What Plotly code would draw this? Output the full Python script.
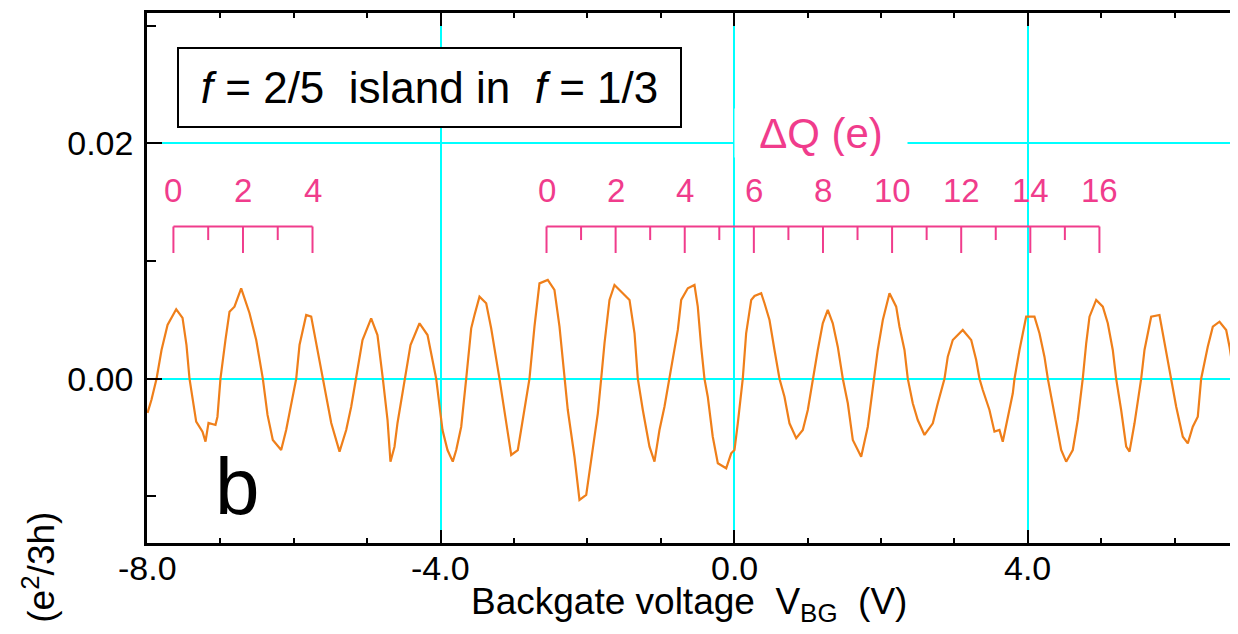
import plotly.graph_objects as go

# ---- measured trace: backgate voltage (V) and conductance (e^2/3h) ----
V_BG = [-7.993, -7.94, -7.870, -7.802, -7.720, -7.602, -7.516, -7.462, -7.421, -7.330,
        -7.244, -7.203, -7.162, -7.067, -7.040, -6.999, -6.931, -6.876, -6.808, -6.717,
        -6.604, -6.512, -6.422, -6.358, -6.286, -6.172, -6.104, -6.035, -5.967, -5.922,
        -5.831, -5.763, -5.704, -5.605, -5.490, -5.377, -5.286, -5.218, -5.150, -5.064,
        -4.946, -4.860, -4.787, -4.723, -4.683, -4.628, -4.587, -4.492, -4.410, -4.287,
        -4.178, -4.060, -3.974, -3.906, -3.834, -3.787, -3.719, -3.651, -3.583, -3.538,
        -3.470, -3.379, -3.311, -3.198, -3.106, -3.038, -2.948, -2.902, -2.789, -2.721,
        -2.653, -2.540, -2.449, -2.380, -2.312, -2.267, -2.176, -2.108, -2.016, -1.926,
        -1.858, -1.812, -1.767, -1.699, -1.631, -1.518, -1.426, -1.358, -1.313, -1.245,
        -1.154, -1.086, -1.018, -0.950, -0.881, -0.837, -0.768, -0.722, -0.632, -0.541,
        -0.496, -0.450, -0.405, -0.360, -0.292, -0.223, -0.109, -0.041, 0.004, 0.049,
        0.095, 0.117, 0.163, 0.232, 0.277, 0.368, 0.413, 0.481, 0.549, 0.617,
        0.685, 0.753, 0.845, 0.935, 1.003, 1.071, 1.139, 1.207, 1.275, 1.343,
        1.411, 1.480, 1.548, 1.616, 1.730, 1.820, 1.911, 1.956, 2.025, 2.116,
        2.207, 2.252, 2.320, 2.365, 2.433, 2.501, 2.593, 2.706, 2.774, 2.865,
        2.910, 2.978, 3.114, 3.229, 3.297, 3.342, 3.387, 3.478, 3.546, 3.614,
        3.659, 3.728, 3.796, 3.819, 3.887, 3.978, 4.091, 4.159, 4.227, 4.273,
        4.319, 4.387, 4.455, 4.523, 4.613, 4.681, 4.749, 4.796, 4.841, 4.932,
        5.022, 5.090, 5.158, 5.204, 5.272, 5.341, 5.386, 5.454, 5.522, 5.545,
        5.590, 5.681, 5.794, 5.862, 5.930, 5.954, 6.022, 6.112, 6.180, 6.248,
        6.316, 6.362, 6.452, 6.521, 6.612, 6.703, 6.748, 6.816, 6.843]
G = [-0.00291, -0.00181, 0.0, 0.00244, 0.00456, 0.0059, 0.00516, 0.00286, 0.0, -0.00365,
     -0.0045, -0.00535, -0.00376, -0.00393, -0.00323, 0.0, 0.00329, 0.00569, 0.00612, 0.00768,
     0.00558, 0.00329, 0.0, -0.00308, -0.00521, -0.00606, -0.00436, -0.00206, 0.0, 0.00286,
     0.00541, 0.00527, 0.00329, 0.0, -0.00376, -0.0062, -0.00436, -0.00238, 0.0, 0.00329,
     0.00513, 0.00371, 0.0, -0.00351, -0.00705, -0.00578, -0.00376, 0.0, 0.00286, 0.00471,
     0.00371, 0.0, -0.00436, -0.00606, -0.00705, -0.00606, -0.00408, 0.0, 0.00428, 0.00541,
     0.00697, 0.00641, 0.00428, 0.0, -0.00376, -0.00648, -0.00606, -0.00436, 0.0, 0.00442,
     0.0081, 0.00839, 0.00754, 0.00442, 0.0, -0.00266, -0.00663, -0.0103, -0.00988, -0.00606,
     -0.00294, 0.0, 0.00301, 0.00669, 0.00796, 0.00726, 0.00669, 0.00386, 0.0, -0.00266,
     -0.00578, -0.00705, -0.00436, -0.00238, 0.0, 0.00187, 0.00414, 0.00669, 0.00768, 0.00796,
     0.00612, 0.00272, 0.0, -0.00153, -0.00493, -0.00719, -0.00761, -0.00634, -0.00606, -0.00379,
     -0.00153, 0.0, 0.00386, 0.00669, 0.00703, 0.00726, 0.00641, 0.00499, 0.00244, 0.0,
     -0.00153, -0.00379, -0.00506, -0.00436, -0.00266, 0.0, 0.00244, 0.00471, 0.00584, 0.00471,
     0.00272, 0.0, -0.00209, -0.00521, -0.00663, -0.00408, 0.0, 0.00244, 0.00499, 0.00726,
     0.00612, 0.00442, 0.00244, 0.0, -0.00209, -0.00351, -0.00478, -0.00379, -0.00209, 0.0,
     0.00187, 0.00329, 0.00414, 0.00329, 0.00159, 0.0, -0.00096, -0.00266, -0.0045, -0.00436,
     -0.00535, -0.00323, -0.00124, 0.0, 0.00244, 0.00527, 0.00527, 0.00386, 0.00187, 0.0,
     -0.00153, -0.00379, -0.00606, -0.00705, -0.00606, -0.00351, 0.0, 0.00301, 0.00527, 0.00669,
     0.00612, 0.00471, 0.00244, 0.0, -0.00266, -0.00578, -0.0062, -0.00379, -0.00124, 0.0,
     0.00244, 0.00527, 0.00541, 0.00301, 0.00074, 0.0, -0.00238, -0.00493, -0.00549, -0.00408,
     -0.00323, 0.0, 0.00272, 0.00442, 0.00484, 0.00414, 0.00272, 0.0, -0.0005]

# ---- ΔQ (e) charge scales ----
DQ1_CHARGES = [0, 1, 2, 3, 4]
DQ1_V_RANGE = [-7.64, -5.745]
DQ1_LABELS = [0, 2, 4]
DQ2_CHARGES = list(range(0, 17))
DQ2_V_RANGE = [-2.557, 4.976]
DQ2_LABELS = [0, 2, 4, 6, 8, 10, 12, 14, 16]
BRACKET_TOP = 0.01293
MAJOR_BOTTOM = 0.01068
MINOR_BOTTOM = 0.01178
LABEL_Y = 0.0160

X_TICKS = [-8, -4, 0, 4]
X_TICKTEXT = ["-8.0", "-4.0", "0.0", "4.0"]

ORANGE = "#EF7F1A"
PINK = "#F03C8C"
CYAN = "#00FFFF"
FONT = "Liberation Sans, Arial, sans-serif"


def q_to_v(q, charges, vr):
    qmax = max(charges)
    return vr[0] + (vr[1] - vr[0]) * q / qmax


def bracket(charges, vr):
    xs, ys = [vr[0], vr[1], None], [BRACKET_TOP, BRACKET_TOP, None]
    for q in charges:
        v = q_to_v(q, charges, vr)
        bottom = MAJOR_BOTTOM if q % 2 == 0 else MINOR_BOTTOM
        xs += [v, v, None]
        ys += [BRACKET_TOP, bottom, None]
    return xs, ys


fig = go.Figure()
fig.add_trace(go.Scatter(x=V_BG, y=G, mode="lines",
                         line=dict(color=ORANGE, width=2.2), showlegend=False))

for charges, vr in [(DQ1_CHARGES, DQ1_V_RANGE), (DQ2_CHARGES, DQ2_V_RANGE)]:
    bx, by = bracket(charges, vr)
    fig.add_trace(go.Scatter(x=bx, y=by, mode="lines",
                             line=dict(color=PINK, width=2), showlegend=False,
                             hoverinfo="skip"))

annotations = []
for labels, charges, vr in [(DQ1_LABELS, DQ1_CHARGES, DQ1_V_RANGE),
                            (DQ2_LABELS, DQ2_CHARGES, DQ2_V_RANGE)]:
    for q in labels:
        annotations.append(dict(x=q_to_v(q, charges, vr), y=LABEL_Y, xref="x", yref="y",
                                text=str(q), showarrow=False,
                                font=dict(family=FONT, size=33, color=PINK)))

annotations.append(dict(x=1.18, y=0.0209, xref="x", yref="y", text="ΔQ (e)",
                        showarrow=False, bgcolor="white", width=170, height=46,
                        font=dict(family=FONT, size=42, color=PINK)))

nb = "\u00a0"
annotations.append(dict(x=-4.158, y=0.02474, xref="x", yref="y",
                        text=f"<i>f</i>{nb}={nb}2/5{nb}{nb}island{nb}in{nb}{nb}<i>f</i>{nb}={nb}1/3",
                        showarrow=False, bgcolor="white", bordercolor="black",
                        borderwidth=2, borderpad=0, width=501, height=77,
                        font=dict(family=FONT, size=44, color="black")))

annotations.append(dict(x=-6.766, y=-0.00912, xref="x", yref="y", text="b",
                        showarrow=False, font=dict(family=FONT, size=80, color="black")))

# x tick labels (placed just below the axis, as in the original)
for v, t in zip(X_TICKS, X_TICKTEXT):
    annotations.append(dict(x=v, y=-0.0472, xref="x", yref="paper", text=t,
                            showarrow=False, xanchor="center", yanchor="middle",
                            font=dict(family=FONT, size=34, color="black")))

annotations.append(dict(x=-0.1, y=-0.0453, xref="paper", yref="paper",
                        xanchor="center", yanchor="middle",
                        text="(e<sup>2</sup>/3h)", textangle=-90, showarrow=False,
                        font=dict(family=FONT, size=37, color="black")))

annotations.append(dict(x=0.5, y=-0.1150, xref="paper", yref="paper",
                        text=f"Backgate voltage{nb}{nb}V<sub>BG</sub>{nb}{nb}(V)",
                        showarrow=False, xanchor="center", yanchor="middle",
                        font=dict(family=FONT, size=37, color="black")))

# page body has an 8px margin; figure is sized/offset so the plot area lands
# at x 147..1230, y 13..543 of the window
fig.update_layout(
    width=1222, height=618,
    margin=dict(l=139, r=0, t=5, b=83),
    paper_bgcolor="white", plot_bgcolor="white",
    annotations=annotations,
    xaxis=dict(range=[-8, 6.755], tickmode="array", tickvals=X_TICKS,
               showticklabels=False,
               showline=True, linecolor="black", linewidth=2.5, mirror="ticks",
               ticks="inside", ticklen=13, tickwidth=2, tickcolor="black",
               showgrid=True, gridcolor=CYAN, gridwidth=2, zeroline=False,
               minor=dict(tickmode="linear", tick0=0, dtick=1, ticks="inside", ticklen=5,
                          tickwidth=2, tickcolor="black", showgrid=False)),
    yaxis=dict(range=[-0.01396, 0.03107], tick0=0, dtick=0.02, tickformat=".2f",
               showline=True, linecolor="black", linewidth=2.5, mirror=False,
               ticks="inside", ticklen=15, tickwidth=2, tickcolor="black",
               tickfont=dict(family=FONT, size=34, color="black"),
               showgrid=True, gridcolor=CYAN, gridwidth=2, zeroline=False,
               ticklabelstandoff=4,
               minor=dict(tick0=0, dtick=0.01, ticks="inside", ticklen=9,
                          tickwidth=2, tickcolor="black", showgrid=False)),
)

fig.write_html("out.html")
